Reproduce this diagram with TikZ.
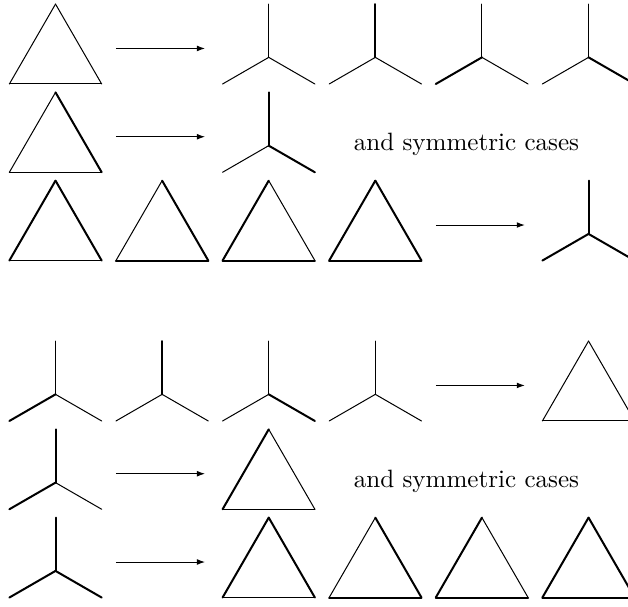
\documentclass[tikz,border=0pt]{standalone}
\usetikzlibrary{arrows.meta}

\tikzset{
  lite/.style={line width=0.62pt, line cap=round, line join=round},
  heavy/.style={line width=1.24pt, line cap=round, line join=round},
  maps/.style={line width=0.62pt, -{Latex[length=5pt,width=3.6pt]}},
  remark/.style={scale=1.545, anchor=base, inner sep=0pt},
}

% triangle: base centre x, base y, left / right / bottom edge
\newcommand{\trig}[5]{%
  \draw[#3] (#1-1,#2) -- (#1,#2+1.732);
  \draw[#4] (#1,#2+1.732) -- (#1+1,#2);
  \draw[#5] (#1-1,#2) -- (#1+1,#2);
}
% tripod: base centre x, base y, top / left / right leg
\newcommand{\pod}[5]{%
  \draw[#3] (#1,#2+0.577) -- (#1,#2+1.732);
  \draw[#4] (#1,#2+0.577) -- (#1-1,#2);
  \draw[#5] (#1,#2+0.577) -- (#1+1,#2);
}

\begin{document}
\begin{tikzpicture}
    \useasboundingbox (0,0) rectangle (13.608,-13.153);

    % triangle to tripod
    \trig{1.203}{-1.82}{lite}{lite}{lite}
    \foreach \k/\a/\b/\c in {2/lite/lite/lite, 3/heavy/lite/lite, 4/lite/heavy/lite, 5/lite/lite/heavy}
        {\pod{1.203+2.31*\k}{-1.82}{\a}{\b}{\c}}

    \trig{1.203}{-3.733}{lite}{heavy}{lite}
    \pod{5.823}{-3.733}{heavy}{lite}{heavy}
    \node[remark] (symup) at (10.108,-3.263) {and symmetric cases};

    \foreach \k/\a/\b/\c in {0/heavy/heavy/lite, 1/lite/heavy/heavy, 2/heavy/lite/heavy, 3/heavy/heavy/heavy}
        {\trig{1.203+2.31*\k}{-5.646}{\a}{\b}{\c}}
    \pod{12.753}{-5.646}{heavy}{heavy}{heavy}

    % tripod to triangle
    \foreach \k/\a/\b/\c in {0/lite/heavy/lite, 1/heavy/lite/lite, 2/lite/lite/heavy, 3/lite/lite/lite}
        {\pod{1.203+2.31*\k}{-9.122}{\a}{\b}{\c}}
    \trig{12.753}{-9.122}{lite}{lite}{lite}

    \pod{1.203}{-11.035}{heavy}{heavy}{lite}
    \trig{5.823}{-11.035}{heavy}{lite}{lite}
    \node[remark] (symdown) at (10.108,-10.565) {and symmetric cases};

    \pod{1.203}{-12.948}{heavy}{heavy}{heavy}
    \foreach \k/\a/\b/\c in {2/heavy/heavy/lite, 3/lite/heavy/heavy, 4/heavy/lite/heavy, 5/heavy/heavy/heavy}
        {\trig{1.203+2.31*\k}{-12.948}{\a}{\b}{\c}}

    % arrows
    \foreach \x/\y [count=\n] in {3.513/-1.82, 3.513/-3.733, 10.443/-5.646, 10.443/-9.122, 3.513/-11.035, 3.513/-12.948} {
        \coordinate (from\n) at (\x-1,\y+0.77);
        \coordinate (to\n) at (\x+0.93,\y+0.77);
        \draw[maps] (from\n) -- (to\n);
    }
\end{tikzpicture}
\end{document}
